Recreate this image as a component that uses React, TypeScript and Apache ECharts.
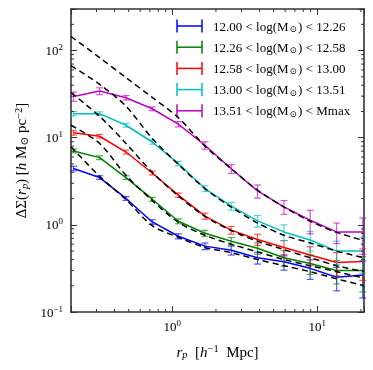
import React, { useEffect, useRef } from 'react';
import * as echarts from 'echarts';

// projected radius of the measured points [h^-1 Mpc]
const rp = [0.208, 0.315, 0.479, 0.727, 1.10, 1.68, 2.55, 3.87, 5.89, 8.93, 13.6, 20.6];
// mass bins
const binLo = ['12.00', '12.26', '12.58', '13.00', '13.51'];
const binHi = ['12.26', '12.58', '13.00', '13.51', 'Mmax'];
const colors = ['#0000ff', '#008000', '#ff0000', '#00bfbf', '#bf00bf'];

// measured Delta Sigma per bin
const dsBlue = [4.43, 3.49, 2.01, 1.08, 0.74, 0.57, 0.51, 0.42, 0.377, 0.317, 0.25, 0.265];
const dsGreen = [7.05, 5.91, 3.49, 1.97, 1.10, 0.80, 0.65, 0.54, 0.42, 0.36, 0.30, 0.30];
const dsRed = [11.4, 10.4, 6.85, 3.94, 2.19, 1.26, 0.87, 0.68, 0.55, 0.45, 0.37, 0.38];
const dsCyan = [18.9, 18.9, 13.9, 8.93, 5.05, 2.61, 1.64, 1.11, 0.83, 0.67, 0.50, 0.50];
const dsMagenta = [29.8, 34.3, 28.8, 21.5, 14.3, 8.2, 4.4, 2.45, 1.61, 1.13, 0.83, 0.83];

// errors
const errBlue = [0.27, 0.17, 0.10, 0.065, 0.05, 0.05, 0.06, 0.065, 0.075, 0.08, 0.075, 0.12];
const errGreen = [0.35, 0.30, 0.17, 0.10, 0.07, 0.065, 0.065, 0.08, 0.085, 0.09, 0.09, 0.13];
const errRed = [0.7, 0.5, 0.35, 0.2, 0.13, 0.10, 0.09, 0.10, 0.11, 0.11, 0.11, 0.15];
const errCyan = [1.1, 0.9, 0.7, 0.5, 0.3, 0.2, 0.17, 0.17, 0.17, 0.17, 0.15, 0.22];
const errMagenta = [3.6, 3.1, 1.7, 1.1, 1.0, 0.8, 0.5, 0.42, 0.29, 0.34, 0.22, 0.37];

// model curves (dashed)
const modelX = [0.2, 0.315, 0.479, 0.727, 1.10, 1.68, 2.55, 3.87, 5.89, 8.93, 13.6, 21];
const modelBlue = [7.9, 3.6, 1.95, 0.98, 0.72, 0.55, 0.48, 0.40, 0.34, 0.29, 0.24, 0.20];
const modelGreen = [13.9, 8.6, 3.7, 1.9, 1.07, 0.76, 0.60, 0.49, 0.40, 0.34, 0.29, 0.245];
const modelRed = [33, 17.6, 8.6, 4.0, 2.15, 1.25, 0.86, 0.65, 0.52, 0.42, 0.34, 0.29];
const modelCyan = [67, 41, 23, 9.8, 4.95, 2.6, 1.6, 1.05, 0.76, 0.62, 0.50, 0.42];
const modelMagenta = [145, 83, 49, 29, 17, 8.0, 4.4, 2.5, 1.6, 1.1, 0.82, 0.66];

const xMin = 0.2, xMax = 21, yMin = 0.1, yMax = 300;
const xMinor = [0.3, 0.4, 0.5, 0.6, 0.7, 0.8, 0.9, 2, 3, 4, 5, 6, 7, 8, 9, 20];
const yMinor = [0.2, 0.3, 0.4, 0.5, 0.6, 0.7, 0.8, 0.9, 2, 3, 4, 5, 6, 7, 8, 9,
  20, 30, 40, 50, 60, 70, 80, 90, 200, 300];

const dsAll = [dsBlue, dsGreen, dsRed, dsCyan, dsMagenta];
const errAll = [errBlue, errGreen, errRed, errCyan, errMagenta];
const modelAll = [modelBlue, modelGreen, modelRed, modelCyan, modelMagenta];

const SERIF = '"Liberation Serif", "DejaVu Serif", serif';
const FRAME = '#333333';

function powLabel(v: number) {
  const e = Math.log10(v);
  const n = Math.round(e);
  if (Math.abs(e - n) > 1e-6) return '';
  return '10{sup|' + (n < 0 ? '\u2212' + -n : String(n)) + '}';
}

const tickRich = {
  sup: { fontSize: 9, lineHeight: 10, verticalAlign: 'top', fontFamily: SERIF, color: '#000' },
};

export default function App() {
  const ref = useRef<HTMLDivElement>(null);
  useEffect(() => {
    if (!ref.current) return;
    const chart = echarts.init(ref.current, undefined, { renderer: 'svg' });
    const series: any[] = [];
    dsAll.forEach((ds, i) => {
      series.push({
        type: 'line',
        name: binLo[i],
        data: rp.map((x, k) => [x, ds[k]]),
        symbol: 'none',
        lineStyle: { color: colors[i], width: 1.5 },
        z: 3,
      });
      series.push({
        type: 'custom',
        name: binLo[i] + '-err',
        data: rp.map((x, k) => [x, ds[k], errAll[i][k]]),
        encode: { x: 0, y: 1 },
        z: 4,
        renderItem: (params: any, api: any) => {
          const x = api.value(0), y = api.value(1), e = api.value(2);
          const c = api.coord([x, y]);
          const hi = api.coord([x, y + e]);
          const lo = api.coord([x, Math.max(y - e, 1e-3)]);
          const w = 3.5;
          const style = { stroke: colors[i], lineWidth: 1.2, opacity: 0.65 };
          return {
            type: 'group',
            children: [
              { type: 'line', shape: { x1: c[0], y1: hi[1], x2: c[0], y2: lo[1] }, style },
              { type: 'line', shape: { x1: c[0] - w, y1: hi[1], x2: c[0] + w, y2: hi[1] }, style },
              { type: 'line', shape: { x1: c[0] - w, y1: lo[1], x2: c[0] + w, y2: lo[1] }, style },
            ],
          };
        },
      });
    });
    modelAll.forEach((m, i) => {
      series.push({
        type: 'line',
        name: 'model' + i,
        data: modelX.map((x, k) => [x, m[k]]),
        symbol: 'none',
        smooth: 0.3,
        lineStyle: { color: '#000', width: 1.5, type: [6, 4] },
        z: 5,
      });
    });
    // minor ticks
    series.push({
      type: 'custom',
      name: 'xminor',
      data: xMinor.map((v) => [v, yMin]),
      encode: { x: 0, y: 1 },
      z: 6,
      renderItem: (params: any, api: any) => {
        const v = api.value(0);
        const b = api.coord([v, yMin]);
        const t = api.coord([v, yMax]);
        const style = { stroke: FRAME, lineWidth: 1 };
        return {
          type: 'group',
          children: [
            { type: 'line', shape: { x1: b[0], y1: b[1], x2: b[0], y2: b[1] - 3 }, style },
            { type: 'line', shape: { x1: t[0], y1: t[1], x2: t[0], y2: t[1] + 3 }, style },
          ],
        };
      },
    });
    series.push({
      type: 'custom',
      name: 'yminor',
      data: yMinor.map((v) => [xMin, v]),
      encode: { x: 0, y: 1 },
      z: 6,
      renderItem: (params: any, api: any) => {
        const v = api.value(1);
        const l = api.coord([xMin, v]);
        const r = api.coord([xMax, v]);
        const style = { stroke: FRAME, lineWidth: 1 };
        return {
          type: 'group',
          children: [
            { type: 'line', shape: { x1: l[0], y1: l[1], x2: l[0] + 3, y2: l[1] }, style },
            { type: 'line', shape: { x1: r[0], y1: r[1], x2: r[0] - 3, y2: r[1] }, style },
          ],
        };
      },
    });

    const legendItems: any[] = [];
    binLo.forEach((lo, i) => {
      const y = 26 + i * 21.2;
      const st = { stroke: colors[i], lineWidth: 1.5 };
      legendItems.push(
        { type: 'line', shape: { x1: 177, y1: y, x2: 202, y2: y }, style: st },
        { type: 'line', shape: { x1: 177, y1: y - 6.5, x2: 177, y2: y + 6.5 }, style: st },
        { type: 'line', shape: { x1: 202, y1: y - 6.5, x2: 202, y2: y + 6.5 }, style: st },
        {
          type: 'text',
          x: 213,
          y,
          style: {
            text: lo + ' < log(M{sub|\u2299}) < ' + binHi[i],
            fontFamily: SERIF,
            fontSize: 13,
            fill: '#000',
            verticalAlign: 'middle',
            rich: {
              sub: { fontSize: 9, fontFamily: SERIF, verticalAlign: 'bottom', padding: [6, 1, 0, 1] },
            },
          },
        }
      );
    });

    const axisCommon = {
      type: 'log',
      logBase: 10,
      axisLine: { show: true, lineStyle: { color: FRAME, width: 1.6 } },
      axisTick: { show: true, inside: true, length: 6, lineStyle: { color: FRAME, width: 1 } },
      splitLine: { show: false },
      minorTick: { show: false },
    };

    const nameRich = {
      i: { fontStyle: 'italic', fontSize: 15, fontFamily: SERIF },
      sub: { fontStyle: 'italic', fontSize: 10.5, fontFamily: SERIF, verticalAlign: 'bottom', padding: [6, 0, 0, 0] },
      sub2: { fontSize: 10.5, fontFamily: SERIF, verticalAlign: 'bottom', padding: [6, 0, 0, 0] },
      sup: { fontSize: 10.5, fontFamily: SERIF, verticalAlign: 'top', padding: [0, 0, 6, 0] },
    };

    chart.setOption({
      animation: false,
      grid: { left: 71, right: 9, top: 9, bottom: 58 },
      xAxis: [
        {
          ...axisCommon,
          min: xMin,
          max: xMax,
          position: 'bottom',
          axisLabel: {
            formatter: powLabel,
            fontFamily: SERIF,
            fontSize: 13,
            lineHeight: 16,
            color: '#000',
            margin: 6,
            rich: tickRich,
          },
          name: '{i|r}{sub|p}  [{i|h}{sup|\u22121}  Mpc]',
          nameLocation: 'middle',
          nameGap: 31,
          nameTextStyle: { fontFamily: SERIF, fontSize: 15, color: '#000', rich: nameRich },
        },
        {
          ...axisCommon,
          min: xMin,
          max: xMax,
          position: 'top',
          axisLabel: { show: false },
        },
      ],
      yAxis: [
        {
          ...axisCommon,
          min: yMin,
          max: yMax,
          position: 'left',
          axisLabel: {
            formatter: powLabel,
            fontFamily: SERIF,
            fontSize: 13,
            lineHeight: 16,
            color: '#000',
            margin: 8,
            rich: tickRich,
          },
          name: '\u0394\u03a3({i|r}{sub|p}) [{i|h} M{sub2|\u2299} pc{sup|\u22122}]',
          nameLocation: 'middle',
          nameRotate: 90,
          nameGap: 35,
          nameTextStyle: { fontFamily: SERIF, fontSize: 15, color: '#000', rich: nameRich },
        },
        {
          ...axisCommon,
          min: yMin,
          max: yMax,
          position: 'right',
          axisLabel: { show: false },
        },
      ],
      graphic: legendItems,
      series,
    });
    return () => chart.dispose();
  }, []);
  return <div ref={ref} style={{ position: 'fixed', left: 0, top: 0, width: 373, height: 370 }} />;
}
